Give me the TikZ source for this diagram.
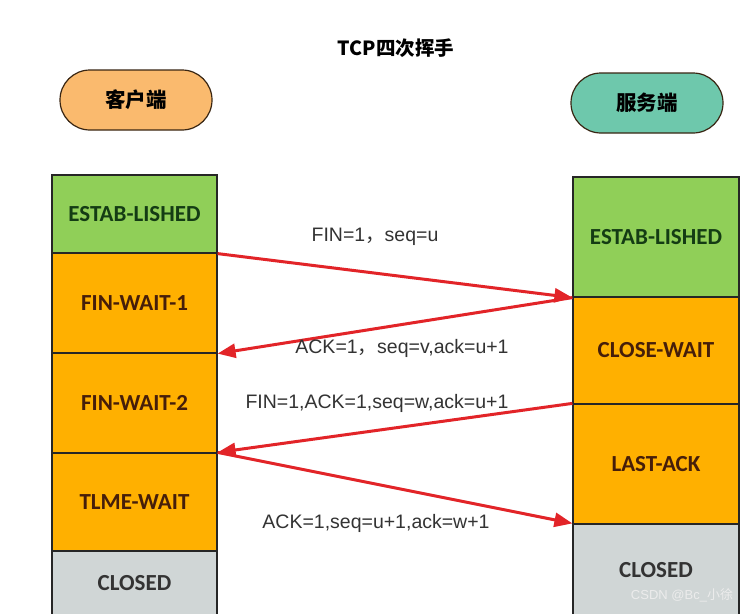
\documentclass[tikz,border=0pt]{standalone}
\usepackage{fontspec}
\setmainfont{Liberation Sans}
\newfontfamily\cjk{Noto Sans CJK SC}
\newfontfamily\boxfont{Carlito}
\usetikzlibrary{arrows.meta,shapes.misc,positioning}

\definecolor{estabgreen}{RGB}{144,207,88}
\definecolor{waitorange}{RGB}{255,176,0}
\definecolor{closedgray}{RGB}{208,214,214}
\definecolor{clientorange}{RGB}{250,186,110}
\definecolor{serverteal}{RGB}{110,200,172}
\definecolor{msgred}{RGB}{226,36,40}
\definecolor{darkgreen}{RGB}{20,60,20}
\definecolor{darkbrown}{RGB}{70,30,10}

\begin{document}
\begin{tikzpicture}[x=1pt,y=-1pt,
  state/.style={draw=black!85,line width=1.2pt,minimum width=165pt,inner sep=0pt,
    font=\boxfont\bfseries\fontsize{23}{25}\selectfont},
  side/.style={draw=black!70!brown,line width=1.2pt,rounded corners=30pt,
    minimum width=152pt,minimum height=60pt,inner sep=0pt,
    font=\cjk\bfseries\fontsize{20.5}{22}\selectfont},
  msg/.style={draw=msgred,line width=3pt,-{Triangle[length=18pt,width=14pt]}},
  lbl/.style={font=\fontsize{19.5}{22}\selectfont,text=black!80}]
\clip (0,0) rectangle (752,613);
\fill[white] (0,0) rectangle (752,613);

% title and the two ends
\node[font=\cjk\bfseries\fontsize{19.5}{21}\selectfont] (title) at (396,48) {TCP四次挥手};
\node[side,fill=clientorange] (client) at (136,100) {客户端};
\node[side,fill=serverteal] (server) at (647,103) {服务端};

% client states
\node[state,fill=estabgreen,text=darkgreen,minimum height=78pt] (cestab) at (134.5,214) {ESTAB-LISHED};
\node[state,fill=waitorange,text=darkbrown,minimum height=100pt] (cwait1) at (134.5,303) {FIN-WAIT-1};
\node[state,fill=waitorange,text=darkbrown,minimum height=100pt] (cwait2) at (134.5,403) {FIN-WAIT-2};
\node[state,fill=waitorange,text=darkbrown,minimum height=98pt] (ctime) at (134.5,502) {TLME-WAIT};
\node[state,fill=closedgray,text=black!80,minimum height=64pt] (cclosed) at (134.5,583) {CLOSED};

% server states
\node[state,fill=estabgreen,text=darkgreen,minimum width=166pt,minimum height=120pt] (sestab) at (656,237) {ESTAB-LISHED};
\node[state,fill=waitorange,text=darkbrown,minimum width=166pt,minimum height=107pt] (sclose) at (656,350.5) {CLOSE-WAIT};
\node[state,fill=waitorange,text=darkbrown,minimum width=166pt,minimum height=120pt] (slast) at (656,464) {LAST-ACK};
\node[state,fill=closedgray,text=black!80,minimum width=166pt,minimum height=92pt] (sclosed) at (656,570) {CLOSED};

% messages
\draw[msg] (cestab.south east) -- (sestab.south west);
\draw[msg] (sestab.south west) -- (cwait1.south east);
\draw[msg] (slast.north west) -- (ctime.north east);
\draw[msg] (ctime.north east) -- (sclosed.north west);

\node[lbl] (fin1) at (375,237) {FIN=1{\cjk ，}seq=u};
\node[lbl] (ack1) at (402,348) {ACK=1{\cjk ，}seq=v,ack=u+1};
\node[lbl] (fin2) at (377,403) {FIN=1,ACK=1,seq=w,ack=u+1};
\node[lbl] (ack2) at (376,523) {ACK=1,seq=u+1,ack=w+1};

\node[font=\fontsize{13}{15}\selectfont,text=white!85!gray] (mark) at (682,595) {CSDN @Bc\_{\cjk 小徐}};
\end{tikzpicture}
\end{document}
